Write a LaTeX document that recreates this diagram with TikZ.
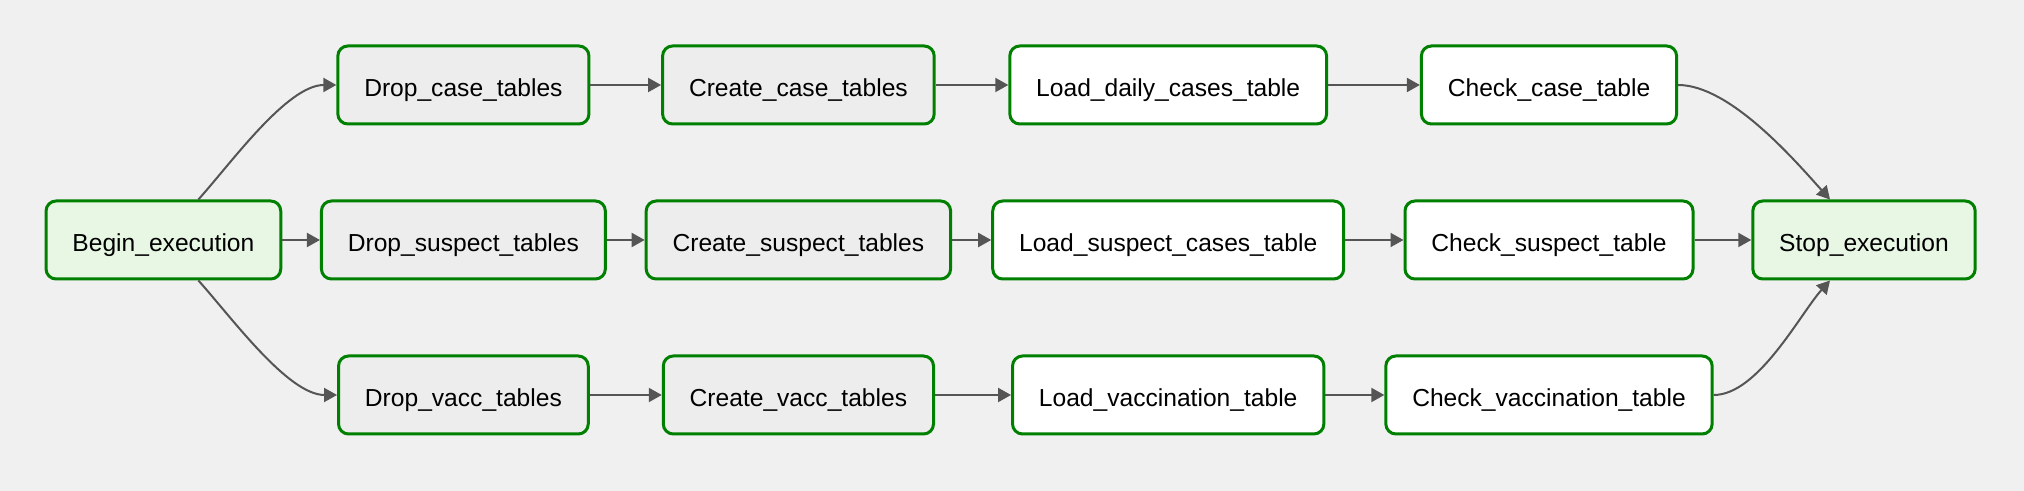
\documentclass[tikz,border=0pt]{standalone}
\usepackage{fontspec}
\setmainfont{Liberation Sans}
\usetikzlibrary{arrows.meta,positioning}

\definecolor{bggray}{HTML}{F0F0F0}
\definecolor{okgreen}{HTML}{008000}
\definecolor{emptyfill}{HTML}{E8F7E4}
\definecolor{sqlfill}{HTML}{EDEDED}
\definecolor{edgegray}{HTML}{555555}

\begin{document}
\begin{tikzpicture}[grow'=right, edge from parent/.style={draw=none}]

\tikzstyle{task}=[draw=okgreen, line width=1.5pt, rounded corners=5pt, minimum height=39pt, inner xsep=13.2pt, text height=12pt, text depth=0pt, font=\fontsize{12.3}{15}\selectfont, text=black]
\tikzstyle{dummy}=[task, fill=emptyfill]
\tikzstyle{sql}=[task, fill=sqlfill]
\tikzstyle{py}=[task, fill=white]
\tikzstyle{flow}=[draw=edgegray, line width=1pt, -{Triangle[length=6.5pt,width=7pt]}]
\tikzstyle{level 1}=[sibling distance=77.5pt, level distance=150pt]
\tikzstyle{level 2}=[level distance=167.5pt]
\tikzstyle{level 3}=[level distance=184.9pt]
\tikzstyle{level 4}=[level distance=190.4pt]

\path[use as bounding box, fill=bggray] (0,0) rectangle (1012pt,245.5pt);

\node[dummy] (begin) at (81.7pt,125.5pt) {Begin\_execution}
  child { node[sql] (dropcase) {Drop\_case\_tables}
    child { node[sql] (createcase) {Create\_case\_tables}
      child { node[py] (loaddaily) {Load\_daily\_cases\_table}
        child { node[py] (checkcase) {Check\_case\_table} }
      }
    }
  }
  child { node[sql] (dropsuspect) {Drop\_suspect\_tables}
    child { node[sql] (createsuspect) {Create\_suspect\_tables}
      child { node[py] (loadsuspect) {Load\_suspect\_cases\_table}
        child { node[py] (checksuspect) {Check\_suspect\_table} }
      }
    }
  }
  child { node[sql] (dropvacc) {Drop\_vacc\_tables}
    child { node[sql] (createvacc) {Create\_vacc\_tables}
      child { node[py] (loadvacc) {Load\_vaccination\_table}
        child { node[py] (checkvacc) {Check\_vaccination\_table} }
      }
    }
  };

\node[dummy] (stop) at ([xshift=157.5pt]checksuspect) {Stop\_execution};

% fan out
\draw[flow] ([xshift=17.5pt]begin.north) to[out=48, in=180, looseness=0.7] (dropcase.west);
\draw[flow] (begin) -- (dropsuspect);
\draw[flow] ([xshift=17.5pt]begin.south) to[out=-48, in=180, looseness=0.7] (dropvacc.west);

% chains
\draw[flow] (dropcase) -- (createcase);
\draw[flow] (createcase) -- (loaddaily);
\draw[flow] (loaddaily) -- (checkcase);
\draw[flow] (dropsuspect) -- (createsuspect);
\draw[flow] (createsuspect) -- (loadsuspect);
\draw[flow] (loadsuspect) -- (checksuspect);
\draw[flow] (dropvacc) -- (createvacc);
\draw[flow] (createvacc) -- (loadvacc);
\draw[flow] (loadvacc) -- (checkvacc);

% fan in
\draw[flow] (checkcase.east) to[out=0, in=132, looseness=0.7] ([xshift=-17pt]stop.north);
\draw[flow] (checksuspect) -- (stop);
\draw[flow] (checkvacc.east) to[out=0, in=-132, looseness=0.7] ([xshift=-17pt]stop.south);

\end{tikzpicture}
\end{document}
